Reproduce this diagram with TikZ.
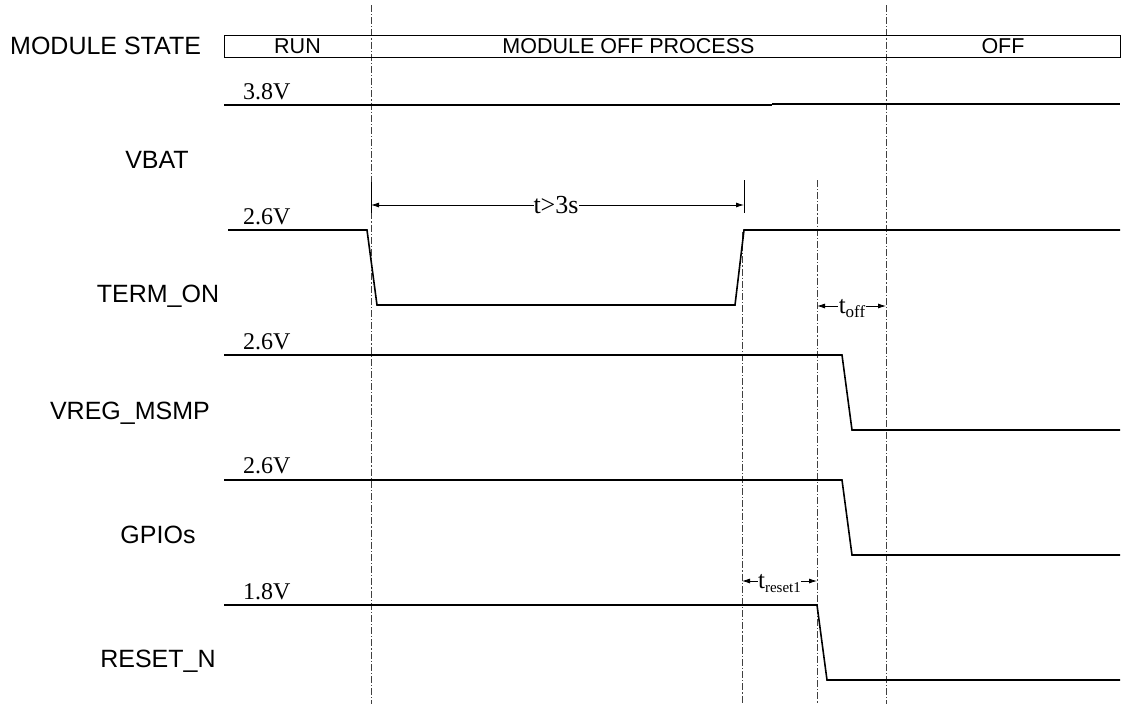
\documentclass[tikz,border=0pt]{standalone}
\usepackage{fontspec}
\setmainfont{Liberation Serif}
\newfontfamily\arialf{Liberation Sans}
\usetikzlibrary{arrows.meta}
\begin{document}
\begin{tikzpicture}[x=1pt,y=-1pt,
  sig/.style={line width=1.6pt, line join=miter},
  guide/.style={line width=0.7pt, dash pattern=on 7pt off 2pt on 1.2pt off 2pt, black!75},
  dim/.style={line width=0.8pt, {Latex[length=8pt,width=5pt]}-{Latex[length=8pt,width=5pt]}},
  tick/.style={line width=0.8pt},
  lbl/.style={font=\arialf\fontsize{25}{28}\selectfont, inner sep=0},
  st/.style={font=\arialf\fontsize{21.5}{24}\selectfont, inner sep=0},
  volt/.style={font=\fontsize{24}{26}\selectfont, inner sep=0},
  tm/.style={font=\fontsize{26}{28}\selectfont, inner sep=0, fill=white},
  tsub/.style={font=\fontsize{25}{28}\selectfont, inner sep=0.5pt, fill=white}]
\useasboundingbox (0,0) rectangle (1122,704);
\fill[white] (0,0) rectangle (1122,704);

% guide lines
\coordinate (gA1) at (371,5);   \coordinate (gA2) at (371,704);
\coordinate (gB1) at (742,232); \coordinate (gB2) at (742,704);
\coordinate (gC1) at (817,180); \coordinate (gC2) at (817,704);
\coordinate (gD1) at (886,5);   \coordinate (gD2) at (886,704);
\draw[guide] (gA1) -- (gA2);
\draw[guide] (gB1) -- (gB2);
\draw[guide] (gC1) -- (gC2);
\draw[guide] (gD1) -- (gD2);

% header
\node[draw, line width=0.8pt, minimum width=896pt, minimum height=22pt, inner sep=0, anchor=north west] (hdr) at (224,35) {};
\node[lbl, anchor=west] (ms) at (10,46) {MODULE STATE};
\node[st] (run) at (297.5,46) {RUN};
\node[st] (proc) at (628.5,46) {MODULE OFF PROCESS};
\node[st] (off) at (1003,46) {OFF};

% signal labels
\node[lbl, anchor=base] (lvbat) at (157,168) {VBAT};
\node[lbl, anchor=base] (lterm) at (158,302) {TERM\_ON};
\node[lbl, anchor=base east] (lvreg) at (210,419) {VREG\_MSMP};
\node[lbl, anchor=base] (lgpio) at (158,543) {GPIOs};
\node[lbl, anchor=base] (lrst) at (158,667) {RESET\_N};

% voltage labels
\node[volt, anchor=base west] (v1) at (243,99) {3.8V};
\node[volt, anchor=base west] (v2) at (243,224) {2.6V};
\node[volt, anchor=base west] (v3) at (243,349) {2.6V};
\node[volt, anchor=base west] (v4) at (243,473) {2.6V};
\node[volt, anchor=base west] (v5) at (243,599) {1.8V};

% VBAT
\coordinate (vb0) at (224,105); \coordinate (vb1) at (772,105);
\coordinate (vb2) at (772,104); \coordinate (vb3) at (1120,104);
\draw[sig] (vb0) -- (vb1);
\draw[sig] (vb2) -- (vb3);

% TERM_ON
\coordinate (ta) at (228,230); \coordinate (tb) at (367,230);
\coordinate (tc) at (377,305); \coordinate (td) at (735,305);
\coordinate (te) at (744,230); \coordinate (tf) at (1120,230);
\draw[sig] (ta) -- (tb) -- (tc) -- (td) -- (te) -- (tf);

% VREG_MSMP
\coordinate (ra) at (224,355); \coordinate (rb) at (842,355);
\coordinate (rc) at (852,430); \coordinate (rd) at (1120,430);
\draw[sig] (ra) -- (rb) -- (rc) -- (rd);

% GPIOs
\coordinate (ga) at (224,480); \coordinate (gb) at (842,480);
\coordinate (gc) at (852,555); \coordinate (gd) at (1120,555);
\draw[sig] (ga) -- (gb) -- (gc) -- (gd);

% RESET_N
\coordinate (na) at (224,605); \coordinate (nb) at (817,605);
\coordinate (nc) at (827,680); \coordinate (nd) at (1120,680);
\draw[sig] (na) -- (nb) -- (nc) -- (nd);

% t>3s dimension
\coordinate (k1a) at (371,182); \coordinate (k1b) at (371,213);
\coordinate (k2a) at (744,180); \coordinate (k2b) at (744,213);
\draw[tick] (k1a) -- (k1b);
\draw[tick] (k2a) -- (k2b);
\coordinate (d1l) at (371,205); \coordinate (d1r) at (744,205);
\draw[dim] (d1l) -- (d1r);
\node[tm, anchor=base] (t3s) at (556,213) {t>3s};

% t_off dimension
\coordinate (d2l) at (817,306); \coordinate (d2r) at (886,306);
\draw[dim] (d2l) -- (d2r);
\node[tsub, anchor=base] (toff) at (852,313) {t\raisebox{-4pt}{\fontsize{17}{19}\selectfont off}};

% t_reset1 dimension
\coordinate (d3l) at (742,581); \coordinate (d3r) at (817,581);
\draw[dim] (d3l) -- (d3r);
\node[tsub, anchor=base] (trst) at (779.5,588) {t\raisebox{-4pt}{\fontsize{15}{17}\selectfont reset1}};
\end{tikzpicture}
\end{document}
